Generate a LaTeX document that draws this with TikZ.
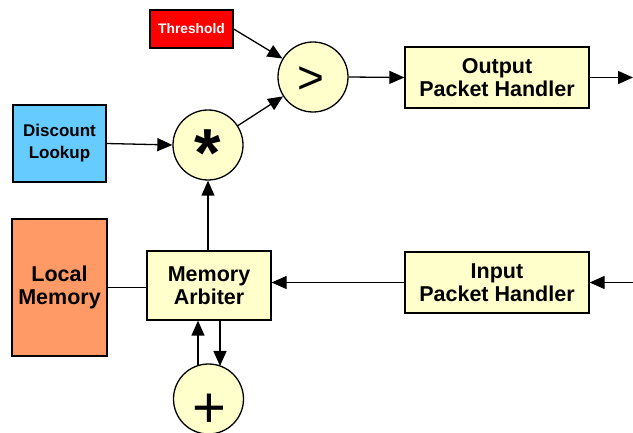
\documentclass[tikz,border=0pt]{standalone}
\usepackage{fontspec}
\setmainfont{Liberation Sans}
\usetikzlibrary{arrows.meta,calc}
\definecolor{paleyellow}{HTML}{FFFFCC}
\definecolor{skyblue}{HTML}{66CCFF}
\definecolor{salmon}{HTML}{FF9966}
\begin{document}
\begin{tikzpicture}[x=1pt,y=-1pt,
  blk/.style={draw=black,line width=1.3pt,fill=paleyellow,inner sep=0pt,align=center,
    font=\fontsize{21.5}{23}\selectfont\bfseries},
  op/.style={draw=black,line width=1.3pt,fill=paleyellow,circle,minimum size=70pt,inner sep=0pt},
  sym/.style={inner sep=0pt},
  wire/.style={line width=1.3pt},
  arr/.style={wire,-{Triangle[length=15pt,width=13pt]}}]
\useasboundingbox (0,0) rectangle (633,433);

% source blocks
\node[draw=black,line width=1.3pt,fill=red,text=white,minimum width=83pt,minimum height=38pt,inner sep=0pt,
  font=\fontsize{13.8}{15}\selectfont\bfseries] (thr) at (191.5,29) {Threshold};
\node[blk,fill=skyblue,minimum width=93pt,minimum height=77pt,font=\fontsize{17}{22}\selectfont\bfseries]
  (disc) at (59.5,143.5) {Discount\\Lookup};
\node[blk,fill=salmon,minimum width=95pt,minimum height=137pt] (mem) at (59.5,287.5) {Local\\Memory};

% processing blocks
\node[blk,minimum width=124pt,minimum height=69pt] (arb) at (209,285.5) {Memory\\Arbiter};
\node[blk,minimum width=184pt,minimum height=61pt] (outp) at (497,77.5) {Output\\Packet Handler};
\node[blk,minimum width=184pt,minimum height=61pt] (inp) at (497,282.5) {Input\\Packet Handler};

% operators: circle plus its symbol
\node[op] (mul) at (208,145) {};
\node[sym,font=\fontsize{68}{68}\selectfont\bfseries] (mulsym) at (208,153) {*};
\node[op] (gt) at (313,77) {};
\node[sym,font=\fontsize{46}{46}\selectfont] (gtsym) at (311,80.5) {>};
\node[op] (plus) at (208.5,399) {};
\node[sym,font=\fontsize{58}{58}\selectfont,text depth=0pt,anchor=base] (plussym) at (209,428) {+};

% free ends at the border
\coordinate (outEnd) at (633,77.5);
\coordinate (inStart) at (633,282.5);

% connections
\draw[arr] (thr.east) -- (gt);
\draw[arr] (mul) -- (gt);
\draw[arr] (disc.east) -- (mul.west);
\draw[arr] (arb.north -| mul.south) -- (mul.south);
\draw[arr] (gt.east) -- (outp.west);
\draw[arr] (outp.east) -- (outEnd);
\draw[arr] (inStart) -- (inp.east);
\draw[arr] (inp.west) -- (inp.west -| arb.east);
\draw[wire] (mem.east) -- (mem.east -| arb.west);
\draw[arr] ($(plus.center)+(-10.5,-33.5)$) -- ($(arb.south)+(-11,0)$);
\draw[arr] ($(arb.south)+(11,0)$) -- ($(plus.center)+(11.5,-33)$);
\end{tikzpicture}
\end{document}
